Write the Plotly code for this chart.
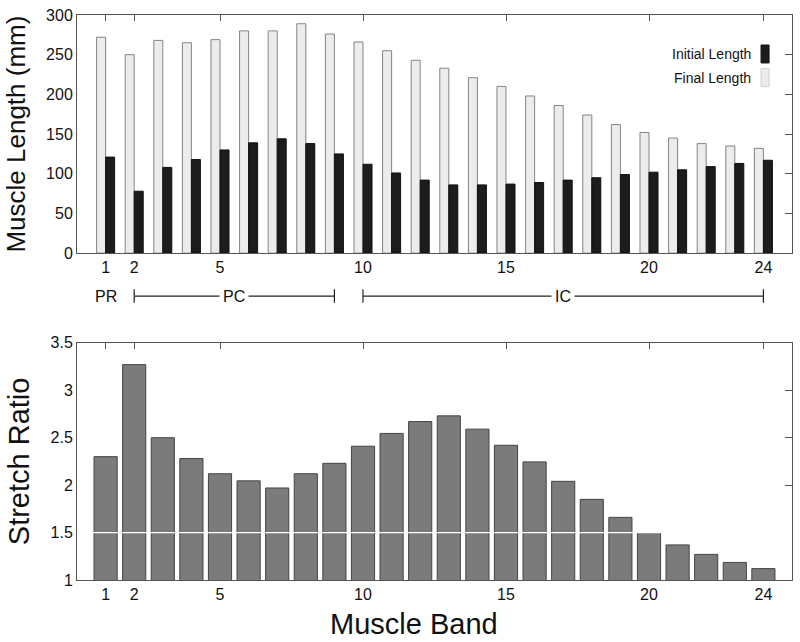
import plotly.graph_objects as go

bands = list(range(1, 25))
initial_length = [121, 78, 108, 118, 130, 139, 144, 138, 125, 112, 101, 92,
                  86, 86, 87, 89, 92, 95, 99, 102, 105, 109, 113, 117]
final_length = [272, 250, 268, 265, 269, 280, 280, 289, 276, 266, 255, 243,
                233, 221, 210, 198, 186, 174, 162, 152, 145, 138, 135, 132]
stretch_ratio = [2.30, 3.27, 2.50, 2.28, 2.12, 2.045, 1.97, 2.12, 2.23, 2.41,
                 2.545, 2.67, 2.73, 2.59, 2.42, 2.245, 2.04, 1.85, 1.66, 1.50,
                 1.37, 1.27, 1.185, 1.12]
tick_bands = [1, 2, 5, 10, 15, 20, 24]
tick_labels = ["1", "2", "5", "10", "15", "20", "24"]
groups = [("PR", 1, 1), ("PC", 2, 9), ("IC", 10, 24)]

FONT = "Liberation Sans, Arial, Helvetica, sans-serif"
AX = "#555555"

fig = go.Figure()
fig.add_trace(go.Bar(x=bands, y=final_length, name="Final Length",
                     marker=dict(color="#ececec", line=dict(color="#858585", width=1)),
                     xaxis="x", yaxis="y", offsetgroup="f", showlegend=False))
fig.add_trace(go.Bar(x=bands, y=initial_length, name="Initial Length",
                     marker=dict(color="#1c1c1c", line=dict(color="#111111", width=1)),
                     xaxis="x", yaxis="y", offsetgroup="i", showlegend=False))
fig.add_trace(go.Bar(x=bands, y=stretch_ratio, name="Stretch Ratio",
                     marker=dict(color="#7b7b7b", line=dict(color="#444444", width=1)),
                     xaxis="x2", yaxis="y2", width=0.81, showlegend=False))

top_dom = [0.5785, 1.0]
bot_dom = [0.0, 0.4198]
xr = [0, 25]
tickfont = dict(family=FONT, size=16, color="#111111")

common_x = dict(range=xr, tickmode="array", tickvals=tick_bands, ticktext=tick_labels,
                showgrid=False, zeroline=False, showline=True, linecolor=AX, linewidth=1,
                ticks="", tickfont=tickfont, fixedrange=True)

fig.update_layout(
    width=800, height=642,
    paper_bgcolor="white", plot_bgcolor="white",
    margin=dict(l=77, r=7, t=13, b=62),
    barmode="group", bargap=0.37, bargroupgap=0.0,
    font=dict(family=FONT, color="#111111"),
    xaxis=dict(domain=[0, 1], anchor="y", mirror=True, **common_x),
    yaxis=dict(domain=top_dom, anchor="x", range=[0, 300], tickvals=[0, 50, 100, 150, 200, 250, 300],
               showgrid=False, zeroline=False, showline=True, linecolor=AX, mirror=True,
               ticks="", tickfont=tickfont, ticklabeloverflow="allow",
               title=dict(text="Muscle Length (mm)", font=dict(family=FONT, size=26, color="#111111"), standoff=12)),
    xaxis2=dict(domain=[0, 1], anchor="y2", mirror=True, **common_x),
    yaxis2=dict(domain=bot_dom, anchor="x2", range=[1, 3.5], tickvals=[1, 1.5, 2, 2.5, 3, 3.5],
                ticktext=["1", "1.5", "2", "2.5", "3", "3.5"],
                showgrid=False, zeroline=False, showline=True, linecolor=AX, mirror=True,
                ticks="", tickfont=tickfont,
                title=dict(text="Stretch Ratio", font=dict(family=FONT, size=29, color="#111111"), standoff=12)),
    # mirrored tick axes (top and right, ticks pointing inward)
    xaxis3=dict(overlaying="x", anchor="y", side="top", range=xr, tickmode="array", tickvals=tick_bands,
                ticks="inside", ticklen=6, tickcolor=AX, showticklabels=False, showgrid=False,
                zeroline=False, showline=False),
    yaxis3=dict(overlaying="y", anchor="x", side="right", range=[0, 300], tickvals=[50, 100, 150, 200, 250],
                ticks="inside", ticklen=7, tickcolor=AX, showticklabels=False, showgrid=False,
                zeroline=False, showline=False),
    xaxis4=dict(overlaying="x2", anchor="y2", side="top", range=xr, tickmode="array", tickvals=tick_bands,
                ticks="inside", ticklen=6, tickcolor=AX, showticklabels=False, showgrid=False,
                zeroline=False, showline=False),
    yaxis4=dict(overlaying="y2", anchor="x2", side="right", range=[1, 3.5], tickvals=[1.5, 2, 2.5, 3],
                ticks="inside", ticklen=7, tickcolor=AX, showticklabels=False, showgrid=False,
                zeroline=False, showline=False),
)

# invisible traces so the tick-only axes are rendered
fig.add_trace(go.Scatter(x=[None], y=[None], xaxis="x3", yaxis="y3", showlegend=False, hoverinfo="skip"))
fig.add_trace(go.Scatter(x=[None], y=[None], xaxis="x4", yaxis="y4", showlegend=False, hoverinfo="skip"))

# white reference line across the stretch-ratio bars
fig.add_shape(type="line", xref="x2 domain", yref="y2", x0=0, x1=1, y0=1.5, y1=1.5,
              line=dict(color="white", width=1.2), layer="above")

# legend (text left, swatch right)
legend_items = [("Initial Length", "#1c1c1c", "#111111", 0.931),
                ("Final Length", "#ececec", "#cfcfcf", 0.889)]
for name, fill, edge, yc in legend_items:
    fig.add_annotation(xref="paper", yref="paper", x=0.9455, y=yc, text=name, showarrow=False,
                       xanchor="right", yanchor="middle", font=dict(family=FONT, size=14, color="#111111"))
    fig.add_shape(type="rect", xref="paper", yref="paper", x0=0.9567, x1=0.9679,
                  y0=yc - 0.0159, y1=yc + 0.0159, fillcolor=fill, line=dict(color=edge, width=1))

# group brackets below the top chart
ybr = 0.5026
for name, a, b in groups:
    if a != b:
        fig.add_shape(type="line", xref="x", yref="paper", x0=a, x1=b, y0=ybr, y1=ybr,
                      line=dict(color="#222222", width=1.2))
        for xe in (a, b):
            fig.add_shape(type="line", xref="x", yref="paper", x0=xe, x1=xe, y0=ybr - 0.012, y1=ybr + 0.012,
                          line=dict(color="#222222", width=1.2))
    fig.add_annotation(xref="x", yref="paper", x=(a + b) / 2, y=ybr, text=name, showarrow=False,
                       xanchor="center", yanchor="middle", bgcolor="white", borderpad=3,
                       font=dict(family=FONT, size=16, color="#111111"))

# x-axis title for the bottom chart
fig.add_annotation(xref="paper", yref="paper", x=0.472, y=-0.0776, text="Muscle Band", showarrow=False,
                   xanchor="center", yanchor="middle", font=dict(family=FONT, size=29, color="#111111"))

# remove the default 8px page margin so the 800x642 figure fills the window exactly
fig.write_html("out.html", config={"displayModeBar": False},
               post_script="document.body.style.margin='0';")
